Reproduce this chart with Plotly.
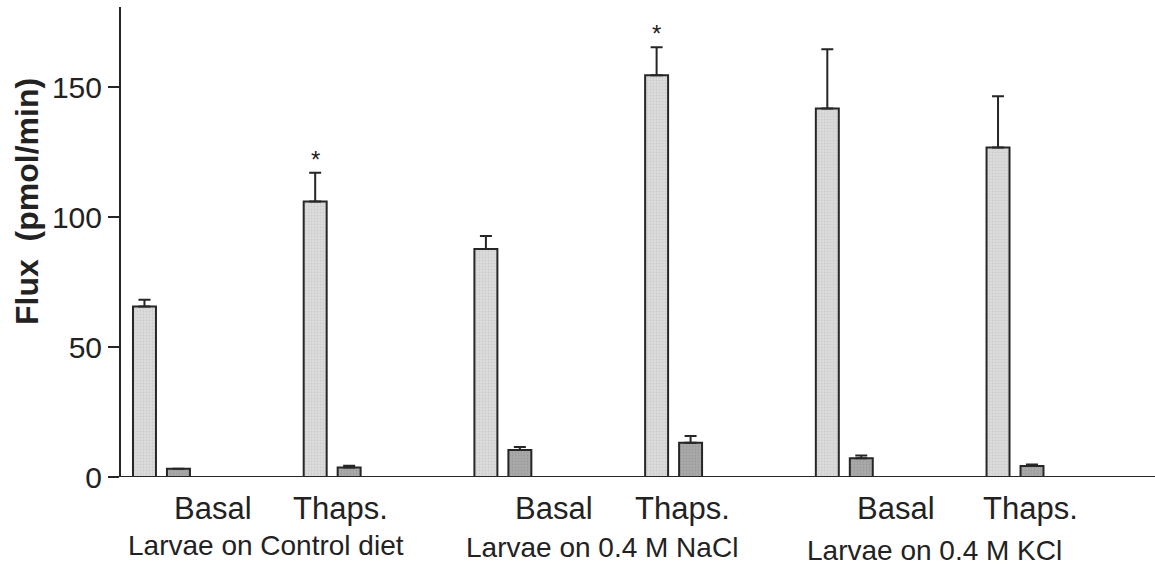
import plotly.graph_objects as go

# ---- data ----
conditions = [0, 1, 2, 3, 4, 5]  # Basal/Thaps for Control, NaCl, KCl
light_vals = [65.6, 106.0, 87.7, 154.5, 141.8, 126.8]
light_err_top = [68.2, 117.0, 92.7, 165.3, 164.5, 146.5]
dark_vals = [3.2, 3.7, 10.4, 13.2, 7.2, 4.2]
dark_err_top = [3.2, 4.3, 11.5, 15.8, 8.3, 4.8]

cat_labels = ["Basal", "Thaps.", "Basal", "Thaps.", "Basal", "Thaps."]
cat_label_x = [0.30, 1.05, 2.30, 3.05, 4.30, 5.09]
group_labels = ["Larvae on Control diet", "Larvae on 0.4 M NaCl", "Larvae on 0.4 M KCl"]
group_label_x = [0.61, 2.58, 4.53]
group_label_shift = [-68, -70, -73]

star_idx = [1, 3]

y_ticks = [0, 50, 100, 150]

FONT = "Liberation Sans, Arial, Helvetica, sans-serif"
LINE = "#262626"

light_err = [t - v for t, v in zip(light_err_top, light_vals)]
dark_err = [t - v for t, v in zip(dark_err_top, dark_vals)]

fig = go.Figure()
fig.add_trace(go.Bar(
    x=conditions, y=light_vals,
    marker=dict(color="#d9d9d9", line=dict(color=LINE, width=2),
                pattern=dict(shape=".", fgcolor="#bcbcbc", bgcolor="#dcdcdc", size=3, solidity=0.3)),
    error_y=dict(type="data", array=light_err, arrayminus=[0] * 6, symmetric=False,
                 color=LINE, thickness=2, width=6),
    showlegend=False,
))
fig.add_trace(go.Bar(
    x=conditions, y=dark_vals,
    marker=dict(color="#a6a6a6", line=dict(color=LINE, width=2),
                pattern=dict(shape=".", fgcolor="#8c8c8c", bgcolor="#a9a9a9", size=3, solidity=0.3)),
    error_y=dict(type="data", array=dark_err, arrayminus=[0] * 6, symmetric=False,
                 color=LINE, thickness=2, width=6),
    showlegend=False,
))

slot = 34 / 170.7  # bar slot width in category units

annotations = []
for i in star_idx:
    annotations.append(dict(x=conditions[i] - slot / 2, y=light_err_top[i], xref="x", yref="y",
                            text="*", showarrow=False, yanchor="bottom", yshift=-2,
                            font=dict(family=FONT, size=24, color="#222")))
for lab, xx in zip(cat_labels, cat_label_x):
    annotations.append(dict(x=xx, y=0, xref="x", yref="paper", text=lab, showarrow=False,
                            yanchor="middle", yshift=-31,
                            font=dict(family=FONT, size=31, color="#222")))
for lab, xx, ys in zip(group_labels, group_label_x, group_label_shift):
    annotations.append(dict(x=xx, y=0, xref="x", yref="paper", text=lab, showarrow=False,
                            yanchor="middle", yshift=ys,
                            font=dict(family=FONT, size=28, color="#222")))
annotations.append(dict(x=0, y=(477 - 202) / 470, xref="paper", yref="paper",
                        text="<b>Flux  (pmol/min)</b>", showarrow=False, textangle=-90,
                        xanchor="center", yanchor="middle", xshift=-94,
                        font=dict(family=FONT, size=32, color="#222")))

fig.update_layout(
    width=1155, height=569,
    margin=dict(l=121, r=0, t=7, b=92),
    paper_bgcolor="white", plot_bgcolor="white",
    barmode="group", bargap=0.602, bargroupgap=0.324,
    annotations=annotations,
    shapes=[dict(type="line", xref="paper", yref="y", x0=-11 / 1034, x1=1, y0=0, y1=0,
                 line=dict(color=LINE, width=2))],
    xaxis=dict(range=[-0.237, 5.82], showticklabels=False, showgrid=False, zeroline=False,
               showline=False, ticks=""),
    yaxis=dict(range=[0, 180.8], tickvals=y_ticks, ticks="outside", ticklen=11, tickwidth=2,
               tickcolor=LINE, showline=True, linecolor=LINE, linewidth=2, showgrid=False,
               zeroline=False, tickfont=dict(family=FONT, size=30, color="#222")),
    font=dict(family=FONT),
)

fig.write_html("out.html")
